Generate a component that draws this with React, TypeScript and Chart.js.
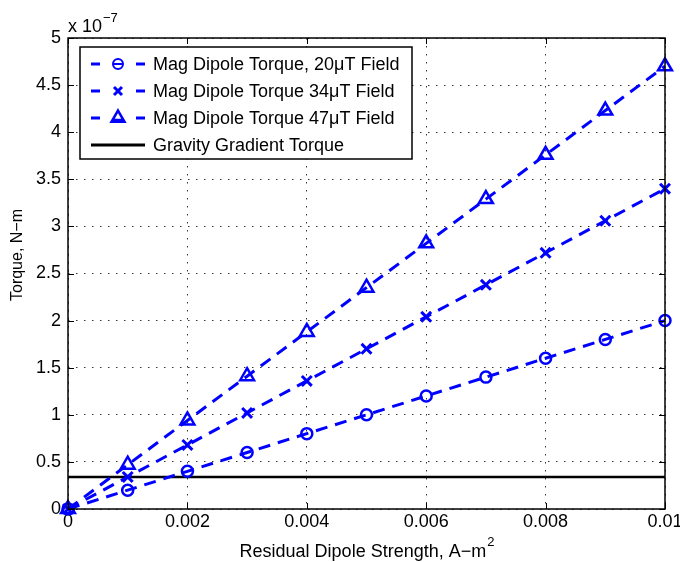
import { useEffect, useRef } from "react";
import { Chart, registerables } from "chart.js";

Chart.register(...registerables);

// Residual dipole strength (A-m^2) and resulting torques (x 1e-7 N-m)
const dipoleStrength = [0, 0.001, 0.002, 0.003, 0.004, 0.005, 0.006, 0.007, 0.008, 0.009, 0.01];
const torque20uT = [0, 0.2, 0.4, 0.6, 0.8, 1.0, 1.2, 1.4, 1.6, 1.8, 2.0];
const torque34uT = [0, 0.34, 0.68, 1.02, 1.36, 1.7, 2.04, 2.38, 2.72, 3.06, 3.4];
const torque47uT = [0, 0.47, 0.94, 1.41, 1.88, 2.35, 2.82, 3.29, 3.76, 4.23, 4.7];
const gravityX = [0, 0.01];
const gravityTorque = [0.34, 0.34];

const xTickValues = [0, 0.002, 0.004, 0.006, 0.008, 0.01];
const xTickLabels = ["0", "0.002", "0.004", "0.006", "0.008", "0.01"];
const yTickValues = [0, 0.5, 1, 1.5, 2, 2.5, 3, 3.5, 4, 4.5, 5];
const yTickLabels = ["0", "0.5", "1", "1.5", "2", "2.5", "3", "3.5", "4", "4.5", "5"];

const seriesLabels = [
  "Mag Dipole Torque, 20\u03bcT Field",
  "Mag Dipole Torque 34\u03bcT Field",
  "Mag Dipole Torque 47\u03bcT Field",
  "Gravity Gradient Torque",
];

const FONT = "'Liberation Sans', Arial, Helvetica, sans-serif";
const BLUE = "#0000ff";

function drawMarker(ctx: CanvasRenderingContext2D, kind: string, x: number, y: number) {
  ctx.save();
  ctx.setLineDash([]);
  ctx.strokeStyle = BLUE;
  ctx.beginPath();
  if (kind === "circle") {
    ctx.lineWidth = 2;
    ctx.arc(x, y, 5, 0, Math.PI * 2);
    ctx.moveTo(x - 5, y);
    ctx.lineTo(x + 5, y);
  } else if (kind === "crossRot") {
    ctx.lineWidth = 3;
    const d = 4;
    ctx.moveTo(x - d, y - d);
    ctx.lineTo(x + d, y + d);
    ctx.moveTo(x - d, y + d);
    ctx.lineTo(x + d, y - d);
  } else {
    ctx.lineWidth = 2.5;
    const r = 7.5;
    for (let i = 0; i < 3; i++) {
      const a = (i * 2 * Math.PI) / 3;
      const px = x + Math.sin(a) * r;
      const py = y - Math.cos(a) * r;
      if (i === 0) ctx.moveTo(px, py);
      else ctx.lineTo(px, py);
    }
    ctx.closePath();
    ctx.moveTo(x - 5, y + 2);
    ctx.lineTo(x + 5, y + 2);
  }
  ctx.stroke();
  ctx.restore();
}

const decorations = {
  id: "decorations",
  afterDatasetsDraw(chart: any) {
    const { ctx, chartArea: a, scales } = chart;
    ctx.save();
    ctx.setLineDash([]);
    ctx.strokeStyle = "#000";
    ctx.lineWidth = 1.5;
    ctx.strokeRect(a.left, a.top, a.right - a.left, a.bottom - a.top);
    ctx.lineWidth = 1;
    ctx.beginPath();
    for (const v of xTickValues) {
      const px = Math.round(scales.x.getPixelForValue(v)) + 0.5;
      ctx.moveTo(px, a.bottom);
      ctx.lineTo(px, a.bottom - 6);
      ctx.moveTo(px, a.top);
      ctx.lineTo(px, a.top + 6);
    }
    for (const v of yTickValues) {
      const py = Math.round(scales.y.getPixelForValue(v)) + 0.5;
      ctx.moveTo(a.left, py);
      ctx.lineTo(a.left + 6, py);
      ctx.moveTo(a.right, py);
      ctx.lineTo(a.right - 6, py);
    }
    ctx.stroke();
    ctx.restore();
  },
  afterDraw(chart: any) {
    const { ctx, chartArea: a } = chart;
    ctx.save();
    ctx.fillStyle = "#000";

    // exponent label above the y axis
    ctx.font = `18px ${FONT}`;
    ctx.textAlign = "left";
    ctx.textBaseline = "alphabetic";
    const base = "x 10";
    ctx.fillText(base, a.left, 32);
    const bw = ctx.measureText(base).width;
    ctx.font = `13px ${FONT}`;
    ctx.fillText("\u22127", a.left + bw + 1, 22);

    // x axis title with superscript
    ctx.font = `18px ${FONT}`;
    const xt = "Residual Dipole Strength, A\u2212m";
    const xw = ctx.measureText(xt).width;
    ctx.font = `13px ${FONT}`;
    const sw = ctx.measureText("2").width;
    const cx = (a.left + a.right) / 2;
    const x0 = cx - (xw + sw) / 2;
    ctx.font = `18px ${FONT}`;
    ctx.fillText(xt, x0, 557);
    ctx.font = `13px ${FONT}`;
    ctx.fillText("2", x0 + xw + 1, 546);

    // y axis title
    ctx.save();
    ctx.translate(18, 255);
    ctx.rotate(-Math.PI / 2);
    ctx.font = `16px ${FONT}`;
    ctx.textAlign = "center";
    ctx.textBaseline = "middle";
    ctx.fillText("Torque, N\u2212m", 0, 0);
    ctx.restore();

    // legend box
    const lx = 80, ly = 47, lw = 332, lh = 112;
    ctx.fillStyle = "#fff";
    ctx.fillRect(lx, ly, lw, lh);
    ctx.strokeStyle = "#000";
    ctx.lineWidth = 1.5;
    ctx.strokeRect(lx, ly, lw, lh);
    const rows = [64, 91, 118, 145];
    const markers = ["circle", "crossRot", "triangle"];
    rows.forEach((ry, i) => {
      if (i < 3) {
        ctx.strokeStyle = BLUE;
        ctx.lineWidth = 3;
        ctx.beginPath();
        ctx.moveTo(91, ry);
        ctx.lineTo(100, ry);
        ctx.moveTo(136, ry);
        ctx.lineTo(145, ry);
        ctx.stroke();
        drawMarker(ctx, markers[i], 118, ry);
      } else {
        ctx.strokeStyle = "#000";
        ctx.lineWidth = 3;
        ctx.beginPath();
        ctx.moveTo(91, ry);
        ctx.lineTo(145, ry);
        ctx.stroke();
      }
      ctx.fillStyle = "#000";
      ctx.font = `18px ${FONT}`;
      ctx.textAlign = "left";
      ctx.textBaseline = "middle";
      ctx.fillText(seriesLabels[i], 153, ry + 1);
    });
    ctx.restore();
  },
};

export default function App() {
  const canvasRef = useRef<HTMLCanvasElement | null>(null);

  useEffect(() => {
    if (!canvasRef.current) return;
    const dash = [12, 8];
    const blueSeries = (label: string, values: number[], style: string, radius: number, bw: number) => ({
      label,
      data: dipoleStrength.map((x, i) => ({ x, y: values[i] })),
      borderColor: BLUE,
      borderWidth: 3,
      borderDash: dash,
      pointStyle: style,
      pointRadius: radius,
      pointBorderWidth: bw,
      pointBorderColor: BLUE,
      pointBackgroundColor: "rgba(0,0,0,0)",
      fill: false,
      tension: 0,
      clip: false as any,
    });

    const chart = new Chart(canvasRef.current, {
      type: "line",
      data: {
        datasets: [
          blueSeries(seriesLabels[0], torque20uT, "circle", 5.5, 2.5),
          blueSeries(seriesLabels[1], torque34uT, "crossRot", 7, 3),
          blueSeries(seriesLabels[2], torque47uT, "triangle", 8, 2.5),
          {
            label: seriesLabels[3],
            data: gravityX.map((x, i) => ({ x, y: gravityTorque[i] })),
            borderColor: "#000",
            borderWidth: 2.5,
            pointRadius: 0,
            fill: false,
          },
        ],
      },
      options: {
        responsive: false,
        animation: false,
        devicePixelRatio: 1,
        layout: { padding: { top: 38, right: 15, bottom: 0, left: 0 } },
        plugins: {
          legend: { display: false },
          tooltip: { enabled: false },
        },
        scales: {
          x: {
            type: "linear",
            min: 0,
            max: 0.01,
            afterBuildTicks: (scale: any) => {
              scale.ticks = xTickValues.map((value) => ({ value }));
            },
            afterFit: (scale: any) => {
              scale.height = 53;
              scale.paddingLeft = 0;
              scale.paddingRight = 0;
            },
            ticks: {
              autoSkip: false,
              maxRotation: 0,
              padding: 2,
              color: "#000",
              font: { family: FONT, size: 18 },
              callback: (_v: any, i: number) => xTickLabels[i],
            },
            grid: {
              drawTicks: false,
              color: "#333",
              lineWidth: 1,
            },
            border: { display: false, dash: [1.5, 6.5] },
          },
          y: {
            type: "linear",
            min: 0,
            max: 5,
            afterBuildTicks: (scale: any) => {
              scale.ticks = yTickValues.map((value) => ({ value }));
            },
            afterFit: (scale: any) => {
              scale.width = 68;
              scale.paddingTop = 0;
              scale.paddingBottom = 0;
            },
            ticks: {
              autoSkip: false,
              padding: 7,
              color: "#000",
              font: { family: FONT, size: 18 },
              callback: (_v: any, i: number) => yTickLabels[i],
            },
            grid: {
              drawTicks: false,
              color: "#333",
              lineWidth: 1,
            },
            border: { display: false, dash: [1.5, 6.5] },
          },
        },
      },
      plugins: [decorations],
    });
    return () => chart.destroy();
  }, []);

  return (
    <div style={{ position: "fixed", left: 0, top: 0, width: 680, height: 562, background: "#fff" }}>
      <canvas ref={canvasRef} width={680} height={562} style={{ display: "block" }} />
    </div>
  );
}
